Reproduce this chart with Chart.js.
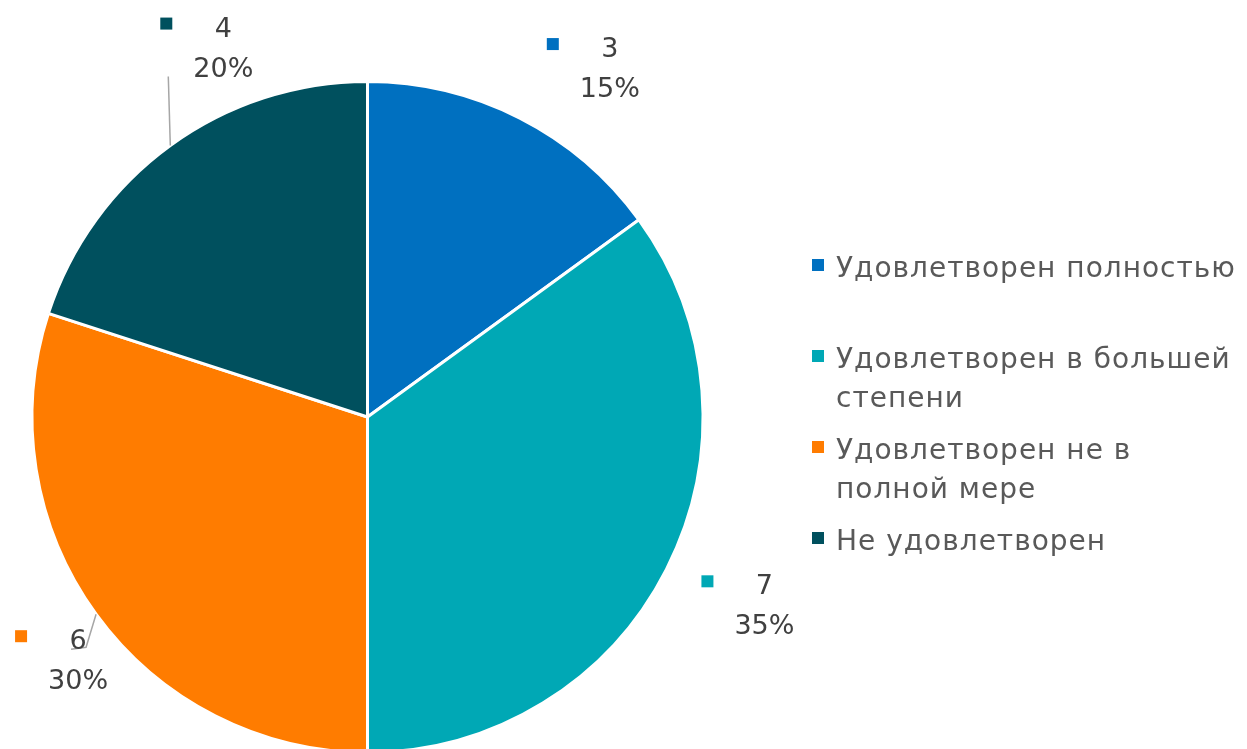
<!DOCTYPE html>
<html lang="ru">
<head>
<meta charset="utf-8">
<title>Удовлетворенность</title>
<script src="https://cdn.jsdelivr.net/npm/chart.js@4"></script>
<style>
    html, body { margin: 0; padding: 0; background: #fff; overflow: hidden; }
    #wrap { position: relative; width: 1247px; height: 800px; }
</style>
</head>
<body>
<div id="wrap"><canvas id="satisfactionChart" width="1247" height="800"></canvas></div>
<script>
const categories = [
    "Удовлетворен полностью",
    "Удовлетворен в большей степени",
    "Удовлетворен не в полной мере",
    "Не удовлетворен"
];
const responses = [3, 7, 6, 4];
const sliceColors = ["#0070C0", "#00A8B5", "#FF7C00", "#00505E"];

// where each value label sits, relative to the outer middle of its slice
const labelOffsets = [[90, -52], [98, 34], [-18, 44], [53, -100]];
// leader lines: points relative to the label centre (null = no line)
const leaderPoints = [null, null, [[8, -11], [-7, -9]], [[-55, 31]]];

const FONT = '"DejaVu Sans", sans-serif';

const total = responses.reduce((a, b) => a + b, 0);

function wrapText(ctx, text, maxWidth) {
    const words = text.split(" ");
    const lines = [];
    let line = "";
    for (const w of words) {
        const test = line ? line + " " + w : w;
        if (ctx.measureText(test).width > maxWidth && line) {
            lines.push(line);
            line = w;
        } else {
            line = test;
        }
    }
    if (line) lines.push(line);
    return lines;
}

const labelsPlugin = {
    id: "sliceLabels",
    afterDraw(chart) {
        const ctx = chart.ctx;
        const meta = chart.getDatasetMeta(0);
        ctx.save();

        /* ---------- VALUE LABELS ---------- */
        ctx.font = "27px " + FONT;
        ctx.textBaseline = "middle";
        ctx.textAlign = "center";
        meta.data.forEach((arc, i) => {
            const p = arc.getProps(["x", "y", "startAngle", "endAngle", "outerRadius"], true);
            const mid = (p.startAngle + p.endAngle) / 2;
            const ox = p.x + Math.cos(mid) * p.outerRadius;
            const oy = p.y + Math.sin(mid) * p.outerRadius;
            const cx = ox + labelOffsets[i][0];
            const cy = oy + labelOffsets[i][1];

            if (leaderPoints[i]) {
                ctx.strokeStyle = "#A6A6A6";
                ctx.lineWidth = 1.5;
                ctx.beginPath();
                ctx.moveTo(ox, oy);
                leaderPoints[i].forEach(([dx, dy]) => ctx.lineTo(cx + dx, cy + dy));
                ctx.stroke();
            }

            const value = String(responses[i]);
            const pct = Math.round(responses[i] / total * 100) + "%";
            const blockW = Math.max(ctx.measureText(value).width, ctx.measureText(pct).width);

            ctx.fillStyle = "#404040";
            ctx.fillText(value, cx, cy - 16);
            ctx.fillText(pct, cx, cy + 24);

            ctx.fillStyle = sliceColors[i];
            ctx.fillRect(cx - blockW / 2 - 33, cy - 28, 12, 12);
        });

        /* ---------- LEGEND ---------- */
        ctx.font = "28px " + FONT;
        ctx.letterSpacing = "1px";
        ctx.textAlign = "left";
        categories.forEach((name, i) => {
            const y = 267 + i * 91;
            ctx.fillStyle = sliceColors[i];
            ctx.fillRect(812, y - 8, 12, 12);
            ctx.fillStyle = "#595959";
            wrapText(ctx, name, 405).forEach((line, j) => {
                ctx.fillText(line, 836, y + 3 + j * 39);
            });
        });

        ctx.restore();
    }
};

new Chart(document.getElementById("satisfactionChart"), {
    type: "pie",
    data: {
        labels: categories,
        datasets: [{
            data: responses,
            backgroundColor: sliceColors,
            borderColor: "#ffffff",
            borderWidth: 3
        }]
    },
    options: {
        responsive: false,
        animation: false,
        layout: { padding: { left: 30, right: 542, top: 80, bottom: 46 } },
        plugins: {
            legend: { display: false },
            tooltip: { enabled: false }
        }
    },
    plugins: [labelsPlugin]
});
</script>
</body>
</html>
